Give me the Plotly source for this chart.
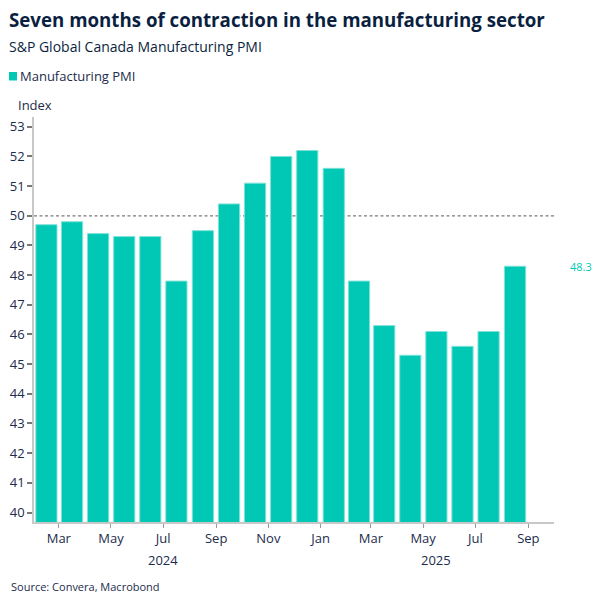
import plotly.graph_objects as go

months = ["2024-02-01", "2024-03-01", "2024-04-01", "2024-05-01", "2024-06-01",
          "2024-07-01", "2024-08-01", "2024-09-01", "2024-10-01", "2024-11-01",
          "2024-12-01", "2025-01-01", "2025-02-01", "2025-03-01", "2025-04-01",
          "2025-05-01", "2025-06-01", "2025-07-01", "2025-08-01"]
pmi = [49.7, 49.8, 49.4, 49.3, 49.3, 47.8, 49.5, 50.4, 51.1, 52.0,
       52.2, 51.6, 47.8, 46.3, 45.3, 46.1, 45.6, 46.1, 48.3]
tick_vals = ["2024-03-01", "2024-05-01", "2024-07-01", "2024-09-01", "2024-11-01",
             "2025-01-01", "2025-03-01", "2025-05-01", "2025-07-01", "2025-09-01"]
tick_text = ["Mar", "May", "Jul", "Sep", "Nov", "Jan", "Mar", "May", "Jul", "Sep"]
year_pos = ["2024-07-01", "2025-05-16"]
year_text = ["2024", "2025"]
threshold = 50

TEAL = "#00c8b4"
NAVY = "#0b1f41"
TXT = "#1c2c4c"
FONT = "Open Sans"

L, R, T, B = 34, 52, 117, 84
W = H = 606
pw = W - L - R
ph = H - T - B

def px(x):
    return (x - L) / pw

def py(y):
    return (H - B - y) / ph

fig = go.Figure()
fig.add_trace(go.Bar(
    x=months, y=pmi, name="Manufacturing PMI",
    xperiod="M1", xperiodalignment="middle",
    marker=dict(color=TEAL, line=dict(color="#7fe2d8", width=1)),
    showlegend=False,
))

annotations = [
    dict(text="<b>Seven months of contraction in the manufacturing sector</b>",
         x=px(7), y=py(20), xanchor="left", yanchor="middle",
         font=dict(size=18.7, color=NAVY, family=FONT)),
    dict(text="S&P Global Canada Manufacturing PMI",
         x=px(7), y=py(47), xanchor="left", yanchor="middle",
         font=dict(size=14, color=NAVY, family=FONT)),
    dict(text="Manufacturing PMI",
         x=px(18), y=py(76), xanchor="left", yanchor="middle",
         font=dict(size=13, color=TXT, family=FONT)),
    dict(text="Index",
         x=px(16), y=py(105), xanchor="left", yanchor="middle",
         font=dict(size=13, color=TXT, family=FONT)),
    dict(text="Source: Convera, Macrobond",
         x=px(9), y=py(586), xanchor="left", yanchor="middle",
         font=dict(size=11, color=TXT, family=FONT)),
    dict(text=f"{pmi[-1]:.1f}", xref="paper", yref="y",
         x=px(581), y=pmi[-1], xanchor="center", yanchor="middle",
         font=dict(size=11, color=TEAL, family=FONT)),
]
for a in annotations:
    a.setdefault("xref", "paper")
    a.setdefault("yref", "paper")
    a["showarrow"] = False
for pos, t in zip(year_pos, year_text):
    annotations.append(dict(text=t, x=pos, xref="x", y=py(560), yref="paper",
                            xanchor="center", yanchor="middle", showarrow=False,
                            font=dict(size=13, color=TXT, family=FONT)))

shapes = [
    dict(type="line", xref="paper", yref="y", x0=0, x1=1, y0=threshold, y1=threshold,
         line=dict(color="#7a7a7a", width=1.2, dash="3px,2.5px"), layer="below"),
    dict(type="rect", xref="paper", yref="paper", x0=px(9), x1=px(17),
         y0=py(80.5), y1=py(72), fillcolor=TEAL, line=dict(width=0)),
]

fig.update_layout(
    width=W, height=H,
    margin=dict(l=L, r=R, t=T, b=B, autoexpand=False),
    paper_bgcolor="white", plot_bgcolor="white",
    bargap=0.16,
    font=dict(family=FONT, color=TXT, size=13),
    annotations=annotations,
    shapes=shapes,
    xaxis=dict(
        type="date", automargin=False,
        range=["2024-02-01", "2025-10-01"],
        tickvals=tick_vals, ticktext=tick_text,
        ticks="outside", ticklen=4, tickcolor="#999999", tickwidth=1,
        showline=True, linecolor="#c8c8c8", linewidth=1.5,
        showgrid=False, zeroline=False,
        tickfont=dict(size=13, color=TXT, family=FONT),
    ),
    yaxis=dict(
        automargin=False,
        range=[39.68, 53.33],
        tickvals=list(range(40, 54)),
        ticks="outside", ticklen=5, tickcolor="#777777", tickwidth=1.5,
        showline=True, linecolor="#c8c8c8", linewidth=1.5,
        showgrid=False, zeroline=False,
        tickfont=dict(size=13, color=TXT, family=FONT),
    ),
)

fig.write_html("out.html", config={"displayModeBar": False},
               post_script="document.body.style.margin='0px';")
